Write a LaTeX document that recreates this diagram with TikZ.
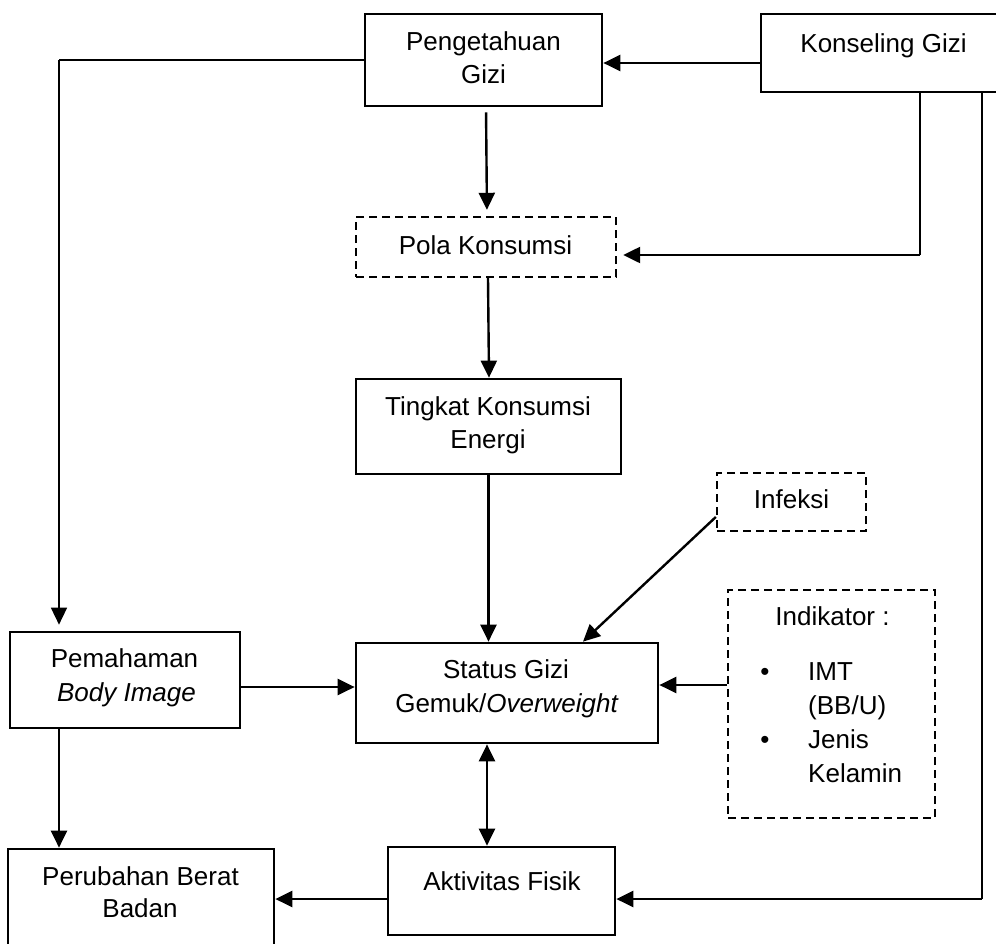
\documentclass[tikz,border=0pt]{standalone}
\usepackage{fontspec}
\setmainfont{Liberation Sans}
\usetikzlibrary{arrows.meta,calc}
\begin{document}
\begin{tikzpicture}[x=1pt,y=-1pt,
  box/.style={draw, line width=2.7pt, inner sep=0pt, rectangle},
  dbox/.style={box, line width=2.4pt, dash pattern=on 8pt off 5pt},
  txt/.style={font=\fontsize{26}{33}\selectfont, anchor=base, inner sep=0pt},
  ltxt/.style={txt, anchor=base west},
  conn/.style={line width=1.6pt},
  arrw/.style={line width=2.4pt, -{Triangle[length=17pt,width=16pt]}},
  arrw2/.style={line width=2.4pt, {Triangle[length=17pt,width=16pt]}-{Triangle[length=17pt,width=16pt]}}
]
\fill[white] (0,0) rectangle (996,943);
\useasboundingbox (0,0) rectangle (996,943);

% boxes
\node[box, minimum width=237pt, minimum height=92pt] (peng) at (483.5,60) {};
\node[box, minimum width=239pt, minimum height=78pt] (kons) at (880.5,53) {};
\node[dbox, minimum width=260pt, minimum height=60pt] (pola) at (486,247) {};
\node[box, minimum width=265pt, minimum height=95pt] (ting) at (488.5,426.5) {};
\node[dbox, minimum width=149pt, minimum height=58pt] (infek) at (791.5,502) {};
\node[dbox, minimum width=207pt, minimum height=228pt] (indik) at (831.5,704) {};
\node[box, minimum width=230pt, minimum height=96pt] (pema) at (125,680) {};
\node[box, minimum width=302pt, minimum height=100pt] (status) at (507,693) {};
\node[box, minimum width=227pt, minimum height=88pt] (akt) at (501.5,891) {};
\node[box, minimum width=266pt, minimum height=111pt] (perub) at (141,904.5) {};

% texts
\node[txt] (tpeng1) at (483.5,50) {Pengetahuan};
\node[txt] (tpeng2) at (483.5,83) {Gizi};
\node[txt] (tkons) at (883.5,52) {Konseling Gizi};
\node[txt] (tpola) at (485.5,254) {Pola Konsumsi};
\node[txt] (tting1) at (488,415) {Tingkat Konsumsi};
\node[txt] (tting2) at (488,448) {Energi};
\node[txt] (tinf) at (791.5,508) {Infeksi};
\node[txt] (tind) at (832.5,625) {Indikator :};
\node[txt] (b1) at (765,680) {•};
\node[ltxt] (tind1) at (808,680) {IMT};
\node[ltxt] (tind2) at (808,714) {(BB/U)};
\node[txt] (b2) at (765,748) {•};
\node[ltxt] (tind3) at (808,748) {Jenis};
\node[ltxt] (tind4) at (808,782) {Kelamin};
\node[txt] (tpema1) at (124.5,667) {Pemahaman};
\node[txt] (tpema2) at (126.5,701) {\itshape Body Image};
\node[txt] (tstat1) at (506,678) {Status Gizi};
\node[txt] (tstat2) at (507,712) {Gemuk/\textit{Overweight}};
\node[txt] (takt) at (502,890) {Aktivitas Fisik};
\node[txt] (tper1) at (140.5,885) {Perubahan Berat};
\node[txt] (tper2) at (140,917) {Badan};

% connectors
\coordinate (L) at (59,60);
\draw[conn] (peng.west) -- (L);
\draw[conn, -{Triangle[length=17pt,width=16pt]}, shorten >=6pt] (L) -- (L |- pema.north);
\draw[arrw] ([yshift=-10pt]kons.west) -- ([yshift=-3pt]peng.east);
\draw[arrw, shorten <=5pt, shorten >=6pt] ($(peng.south)+(2.5,0)$) -- ($(pola.north)+(1,0)$);

\coordinate (K1) at (920,255);
\draw[conn] (kons.south -| K1) -- (K1);
\draw[arrw] (K1) -- ([xshift=6pt]pola.east |- K1);
\coordinate (K2) at (982,899);
\draw[conn] (kons.south -| K2) -- (K2);
\draw[arrw] (K2) -- (akt.east |- K2);

\draw[arrw] ($(pola.south)+(2,0)$) -- ($(ting.north)+(0.5,0)$);
\draw[arrw] (ting.south) -- (ting.south |- status.north);
\draw[arrw] ([yshift=-15pt]infek.west) -- ($(status.north)+(76,0)$);
\coordinate (I1) at ([yshift=19pt]indik.west);
\draw[arrw] (I1) -- (status.east |- I1);
\coordinate (P1) at ([yshift=-7pt]pema.east);
\draw[arrw] (P1) -- (status.west |- P1);
\coordinate (S1) at (487,743);
\draw[arrw2] (status.south -| S1) -- (akt.north -| S1);
\draw[arrw] (pema.south -| L) -- (perub.north -| L);
\coordinate (A1) at ([yshift=-8pt]akt.west);
\draw[arrw] (A1) -- (perub.east |- A1);
\end{tikzpicture}
\end{document}
